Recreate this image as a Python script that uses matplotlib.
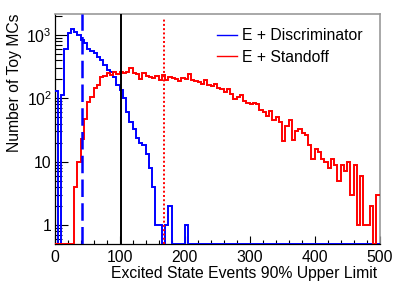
import numpy as np
import matplotlib
matplotlib.use("Agg")
import matplotlib.pyplot as plt
from matplotlib.ticker import FixedLocator, MultipleLocator, LogLocator, NullFormatter

plt.rcParams['font.family'] = ['Liberation Sans', 'DejaVu Sans']
plt.rcParams['mathtext.fontset'] = 'custom'
plt.rcParams['mathtext.rm'] = 'Liberation Sans'
plt.rcParams['mathtext.it'] = 'Liberation Sans'

# ---- data ----
bin_lo, bin_hi, n_bins = 0, 500, 100

discriminator_counts = [
    132, 0, 115, 600, 1070, 1230, 1120, 1000, 830, 760,
    600, 560, 515, 455, 405, 340, 285, 265, 215, 165,
    135, 100, 60, 43, 33, 24, 20, 18, 13, 8,
    4, 1, 1, 0, 1, 2, 0, 0, 0, 0,
    1, 0, 0, 0, 0, 0, 0, 0, 0, 0,
    0, 0, 0, 0, 0, 0, 0, 0, 0, 0,
    0, 0, 0, 0, 0, 0, 0, 0, 0, 0,
    0, 0, 0, 0, 0, 0, 0, 0, 0, 0,
    0, 0, 0, 0, 0, 0, 0, 0, 0, 0,
    0, 0, 0, 0, 0, 0, 0, 0, 0, 0,
]

standoff_counts = [
    0, 0, 0, 0, 0, 0, 4, 10, 23, 47,
    89, 104, 145, 164, 220, 225, 256, 236, 265, 245,
    265, 250, 260, 305, 250, 245, 200, 250, 226, 215,
    208, 226, 195, 234, 195, 221, 208, 200, 190, 208,
    202, 242, 195, 190, 178, 168, 195, 165, 158, 168,
    145, 140, 128, 138, 117, 98, 106, 113, 90, 84,
    81, 84, 80, 66, 60, 52, 62, 45, 50, 42,
    21, 36, 46, 22, 30, 33, 28, 26, 18, 11,
    16, 14, 11, 10, 8, 11, 9, 5, 9, 7,
    10, 3, 9, 1, 6, 1, 1, 2, 0, 3,
]

labels = ["E + Discriminator", "E + Standoff"]
discriminator_limit = 42     # blue dashed
combined_limit = 103         # black solid
standoff_limit = 169         # red dotted
standoff_line_top = 1800

x_label = "Excited State Events 90% Upper Limit"
y_label = "Number of Toy MCs"
x_ticks = [0, 100, 200, 300, 400, 500]
y_ticks = [1, 10, 100, 1000]
y_tick_labels = ["1", "10", r"$10^{2}$", r"$10^{3}$"]
YMIN, YMAX = 0.5, 2150

FS = 11.3

# ---- figure ----
fig = plt.figure(figsize=(4.07, 2.89), dpi=100)
ax = fig.add_axes([54.5/407, 1-244/289, 325/407, 230/289])

edges = np.linspace(bin_lo, bin_hi, n_bins + 1)
d = np.clip(np.array(discriminator_counts, float), YMIN, None)
s = np.clip(np.array(standoff_counts, float), YMIN, None)

ax.set_yscale('log')
ax.stairs(d, edges, color='#0000ff', lw=1.4, baseline=None, label=labels[0], zorder=3)
ax.stairs(s, edges, color='#ff0000', lw=1.4, baseline=None, label=labels[1], zorder=3)

ax.plot([discriminator_limit]*2, [YMIN, YMAX], color='#0000ff', lw=1.8,
        dashes=(7, 2.5), zorder=4)
ax.plot([combined_limit]*2, [YMIN, YMAX], color='black', lw=1.4, zorder=4)
ax.plot([standoff_limit]*2, [YMIN, standoff_line_top], color='#ff0000', lw=1.4,
        dashes=(1, 1.2), zorder=4)

ax.set_xlim(bin_lo, bin_hi)
ax.set_ylim(YMIN, YMAX)

ax.xaxis.set_major_locator(FixedLocator(x_ticks))
ax.xaxis.set_minor_locator(MultipleLocator(20))
ax.yaxis.set_major_locator(FixedLocator(y_ticks))
ax.set_yticklabels(y_tick_labels)
ax.yaxis.set_minor_locator(LogLocator(base=10, subs=np.arange(2, 10)))
ax.yaxis.set_minor_formatter(NullFormatter())

ax.tick_params(axis='both', which='both', direction='in', top=False, right=False,
               labelsize=FS, colors='black')
ax.tick_params(axis='x', which='major', length=6, width=0.8, pad=4)
ax.tick_params(axis='x', which='minor', length=3, width=0.8)
ax.tick_params(axis='y', which='major', length=9, width=0.8, pad=2)
ax.tick_params(axis='y', which='minor', length=5, width=0.8)

for side in ['left', 'bottom']:
    ax.spines[side].set_color('black')
    ax.spines[side].set_linewidth(0.9)
for side in ['top', 'right']:
    ax.spines[side].set_color('#999999')
    ax.spines[side].set_linewidth(1.2)

xl = ax.set_xlabel(x_label, fontsize=FS, loc='right', labelpad=1)
xl.set_x(1 - 2.5/325)
ax.set_ylabel(y_label, fontsize=FS, loc='top', labelpad=3)

leg = ax.legend(loc='upper left', bbox_to_anchor=(217/407, 1-28/289),
                bbox_transform=fig.transFigure, frameon=False, fontsize=FS,
                handlelength=1.27, handletextpad=0.32, labelspacing=0.44,
                borderpad=0, borderaxespad=0)
for line in leg.get_lines():
    line.set_linewidth(1.0)

fig.savefig("out.png", dpi=100)
